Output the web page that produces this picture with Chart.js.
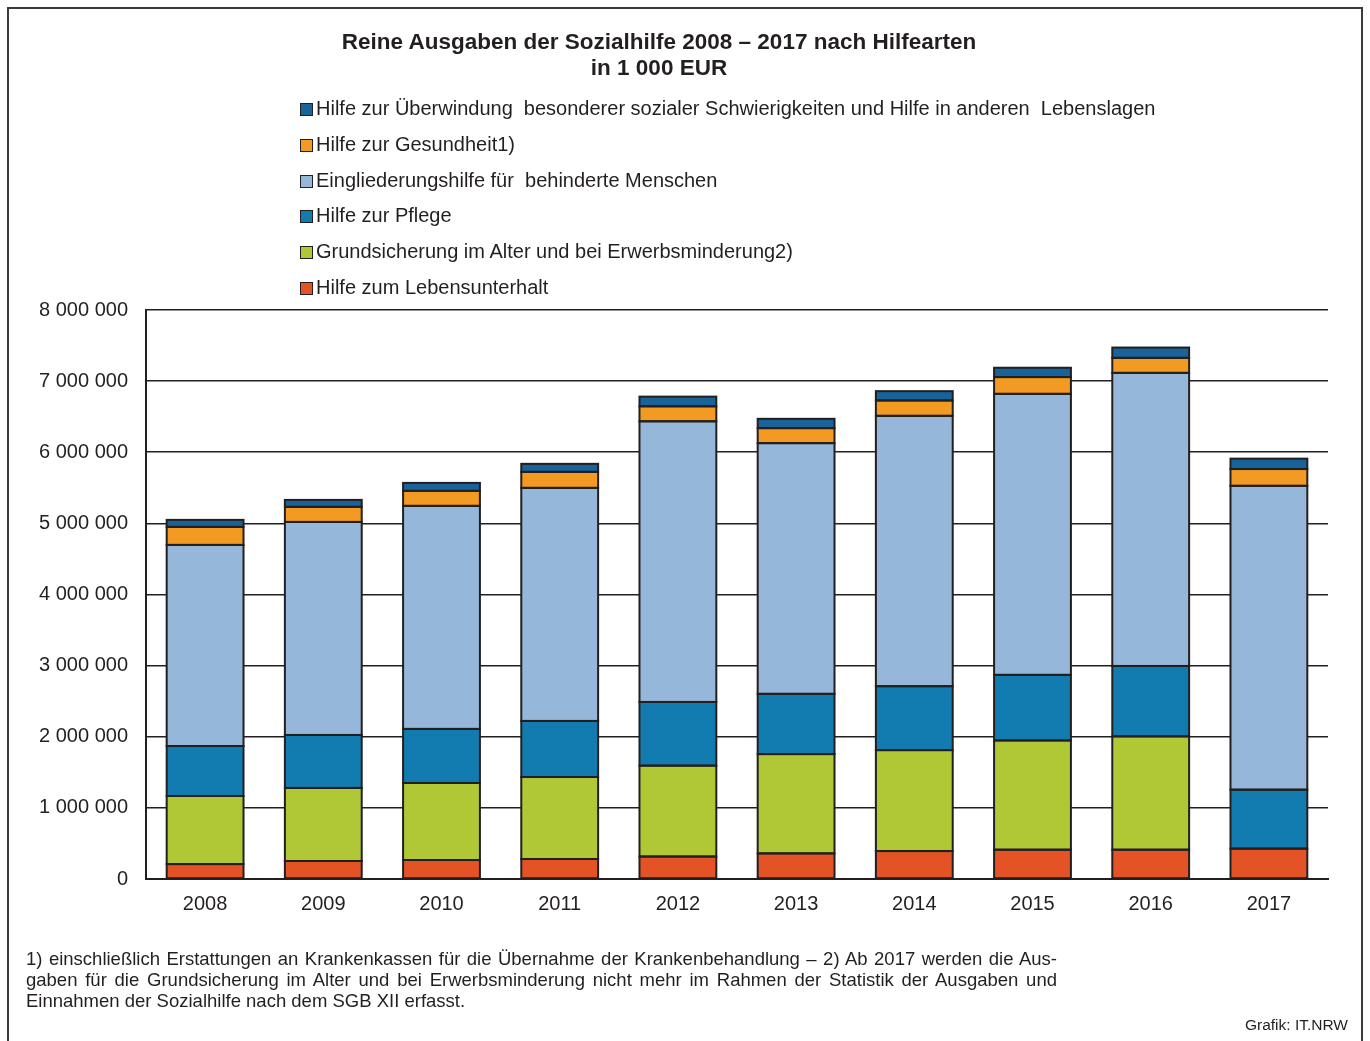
<!DOCTYPE html>
<html lang="de">
<head>
<meta charset="utf-8">
<script src="https://cdn.jsdelivr.net/npm/chart.js@4/dist/chart.umd.min.js"></script>
<style>
  html, body { margin: 0; padding: 0; background: #fff; overflow: hidden; }
  #wrap { position: relative; width: 1370px; height: 1041px; font-family: "Liberation Sans", Arial, sans-serif; color: #231f20; }
  #frame { position: absolute; left: 7px; top: 7px; width: 1356px; height: 1060px; border: 2px solid #3a3a3a; box-sizing: border-box; }
  canvas { position: absolute; left: 0; top: 0; }
  .title { position: absolute; left: 259px; width: 800px; text-align: center; font-weight: bold; font-size: 22.5px; line-height: 26px; }
  .leg { position: absolute; left: 300px; height: 30px; line-height: 30px; font-size: 20px; white-space: pre; }
  .leg i { display: inline-block; width: 11px; height: 11px; border: 1px solid #231f20; margin-right: 3px; vertical-align: -1px; }
  .foot { position: absolute; left: 26px; width: 1031px; font-size: 18.5px; line-height: 21px; white-space: nowrap; }
  .just { text-align: justify; text-align-last: justify; white-space: normal; }
  #credit { position: absolute; right: 22px; top: 1016px; font-size: 15.5px; }
</style>
</head>
<body>
<div id="wrap">
  <canvas id="c" width="1370" height="1041"></canvas>
  <div id="frame"></div>
  <div class="title" style="top:29px">Reine Ausgaben der Sozialhilfe 2008 – 2017 nach Hilfearten</div>
  <div class="title" style="top:55px">in 1 000 EUR</div>
  <div id="legend"></div>
  <div class="foot just" style="top:948px">1) einschließlich Erstattungen an Krankenkassen für die Übernahme der Krankenbehandlung – 2) Ab 2017 werden die Aus-</div>
  <div class="foot just" style="top:969px">gaben für die Grundsicherung im Alter und bei Erwerbsminderung nicht mehr im Rahmen der Statistik der Ausgaben und</div>
  <div class="foot" style="top:990px">Einnahmen der Sozialhilfe nach dem SGB XII erfasst.</div>
  <div id="credit">Grafik: IT.NRW</div>
</div>
<script>
// Werte in 1 000 EUR
const years = ['2008', '2009', '2010', '2011', '2012', '2013', '2014', '2015', '2016', '2017'];
const lebensunterhalt = [210000, 253000, 267000, 281000, 316000, 360000, 393000, 412000, 412000, 427000];
const grundsicherung = [957000, 1027000, 1083000, 1153000, 1278000, 1396000, 1419000, 1536000, 1593000, 0];
const pflege = [703000, 745000, 760000, 788000, 895000, 847000, 899000, 922000, 990000, 829000];
const eingliederung = [2827000, 2995000, 3136000, 3277000, 3946000, 3525000, 3801000, 3951000, 4121000, 4272000];
const gesundheit = [253000, 212000, 211000, 225000, 211000, 211000, 216000, 236000, 211000, 236000];
const ueberwindung = [99000, 98000, 112000, 113000, 136000, 131000, 131000, 131000, 145000, 146000];
const yTicks = [0, 1000000, 2000000, 3000000, 4000000, 5000000, 6000000, 7000000, 8000000];

const ink = '#231f20';
const series = [
    { label: 'Hilfe zum Lebensunterhalt', data: lebensunterhalt, color: '#e45326' },
    { label: 'Grundsicherung im Alter und bei Erwerbsminderung2)', data: grundsicherung, color: '#b1c836' },
    { label: 'Hilfe zur Pflege', data: pflege, color: '#127cb0' },
    { label: 'Eingliederungshilfe für  behinderte Menschen', data: eingliederung, color: '#95b7d9' },
    { label: 'Hilfe zur Gesundheit1)', data: gesundheit, color: '#f29a21' },
    { label: 'Hilfe zur Überwindung  besonderer sozialer Schwierigkeiten und Hilfe in anderen  Lebenslagen', data: ueberwindung, color: '#17639a' }
];

// legend: top of the stack first
const legendEl = document.getElementById('legend');
series.slice().reverse().forEach((s, i) => {
    const row = document.createElement('div');
    row.className = 'leg';
    row.style.top = (93 + i * 35.8) + 'px';
    const box = document.createElement('i');
    box.style.background = s.color;
    row.appendChild(box);
    row.appendChild(document.createTextNode(s.label));
    legendEl.appendChild(row);
});

const fmt = v => String(v).replace(/\B(?=(\d{3})+(?!\d))/g, ' ');

// outline every segment evenly, centred on its edges
const segmentOutline = {
    id: 'segmentOutline',
    afterDatasetsDraw(chart) {
        const ctx = chart.ctx;
        ctx.save();
        ctx.strokeStyle = ink;
        ctx.lineWidth = 2;
        chart.data.datasets.forEach((ds, i) => {
            chart.getDatasetMeta(i).data.forEach(bar => {
                const { x, y, base, width } = bar.getProps(['x', 'y', 'base', 'width'], true);
                if (Math.abs(base - y) < 0.5) return;
                ctx.strokeRect(x - width / 2, Math.min(y, base), width, Math.abs(base - y));
            });
        });
        ctx.restore();
    }
};

new Chart(document.getElementById('c'), {
    type: 'bar',
    data: {
        labels: years,
        datasets: series.map(s => ({
            label: s.label,
            data: s.data,
            backgroundColor: s.color,
            borderWidth: 0,
            categoryPercentage: 1,
            barPercentage: 0.65
        }))
    },
    options: {
        responsive: false,
        devicePixelRatio: 1,
        animation: false,
        layout: { padding: { left: 0, top: 310, right: 42, bottom: 122 } },
        plugins: {
            legend: { display: false },
            title: { display: false },
            tooltip: { enabled: false }
        },
        scales: {
            x: {
                stacked: true,
                grid: { display: false },
                border: { color: ink, width: 2 },
                ticks: { color: ink, padding: 5, font: { family: 'Liberation Sans', size: 20 } },
                afterFit: scale => { scale.height = 40; }
            },
            y: {
                stacked: true,
                min: 0,
                max: 8000000,
                afterBuildTicks: scale => { scale.ticks = yTicks.map(v => ({ value: v })); },
                grid: { color: ink, lineWidth: 1.6, drawTicks: false },
                border: { color: ink, width: 2 },
                ticks: {
                    color: ink,
                    padding: 18,
                    font: { family: 'Liberation Sans', size: 20 },
                    callback: v => fmt(v)
                },
                afterFit: scale => { scale.width = 146; }
            }
        }
    },
    plugins: [segmentOutline]
});
</script>
</body>
</html>
